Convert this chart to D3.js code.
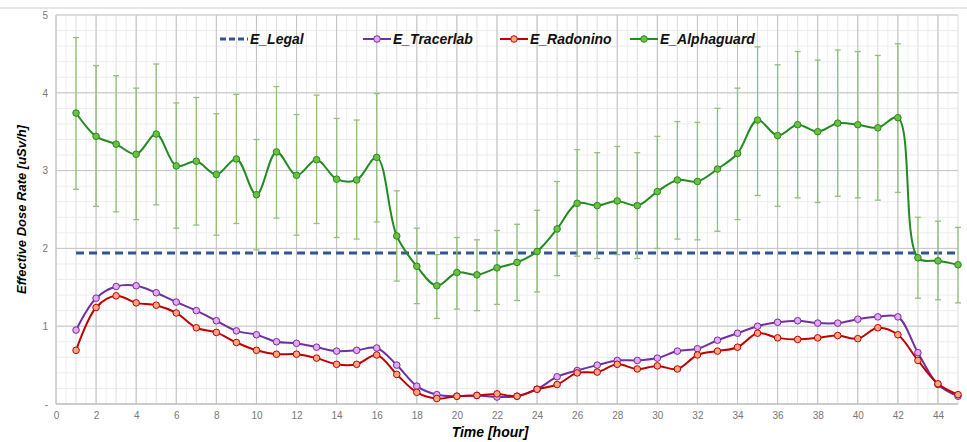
<!DOCTYPE html>
<html><head><meta charset="utf-8">
<script src="https://cdn.jsdelivr.net/npm/d3@7"></script>
<style>
body{margin:0;background:#fff;font-family:"Liberation Sans",Arial,sans-serif}
</style></head>
<body><div id="chart"></div>
<script>
var hours = d3.range(1, 46);
var legal = 1.94;
var tracerlab = [0.95,1.36,1.51,1.52,1.43,1.31,1.20,1.07,0.94,0.89,0.80,0.78,0.73,0.68,0.69,0.72,0.50,0.23,0.12,0.10,0.11,0.09,0.10,0.19,0.35,0.43,0.50,0.56,0.56,0.59,0.68,0.71,0.82,0.91,1.00,1.05,1.07,1.04,1.04,1.09,1.12,1.12,0.66,0.25,0.10];
var radonino = [0.69,1.24,1.39,1.30,1.27,1.17,0.98,0.92,0.79,0.69,0.64,0.64,0.59,0.51,0.51,0.63,0.38,0.15,0.07,0.10,0.11,0.13,0.10,0.19,0.25,0.40,0.41,0.51,0.45,0.49,0.45,0.63,0.68,0.73,0.91,0.85,0.83,0.85,0.88,0.84,0.98,0.89,0.56,0.26,0.12];
var alphaguard = [3.74,3.44,3.34,3.21,3.47,3.06,3.12,2.95,3.15,2.69,3.24,2.94,3.14,2.89,2.88,3.17,2.16,1.77,1.52,1.69,1.66,1.75,1.82,1.96,2.25,2.58,2.55,2.61,2.55,2.73,2.88,2.86,3.02,3.22,3.65,3.45,3.59,3.50,3.61,3.59,3.55,3.68,1.88,1.84,1.79];
var alphaHigh = [4.71,4.35,4.22,4.06,4.37,3.87,3.94,3.73,3.98,3.40,4.08,3.72,3.97,3.67,3.65,3.99,2.74,2.26,1.92,2.14,2.11,2.23,2.31,2.49,2.86,3.27,3.23,3.31,3.23,3.44,3.63,3.62,3.80,4.06,4.59,4.36,4.53,4.42,4.55,4.53,4.48,4.63,2.40,2.35,2.27];
var alphaLow = [2.76,2.54,2.47,2.37,2.56,2.26,2.30,2.17,2.32,1.98,2.39,2.17,2.32,2.14,2.12,2.34,1.58,1.29,1.10,1.22,1.20,1.28,1.33,1.44,1.65,1.90,1.87,1.92,1.87,2.00,2.12,2.11,2.22,2.37,2.68,2.54,2.65,2.59,2.67,2.65,2.62,2.72,1.36,1.34,1.30];
var xTicks = d3.range(0, 46, 2);
var yTicks = [0,1,2,3,4,5];

var svgWidth = 967, svgHeight = 442;
var margin = {top: 15, right: 9, bottom: 38, left: 56};
var width = svgWidth - margin.left - margin.right;
var height = svgHeight - margin.top - margin.bottom;

var svg = d3.select("#chart").append("svg")
  .attr("width", svgWidth).attr("height", svgHeight);

// thin frame line at the top, like the screenshot
svg.append("line").attr("x1", 0).attr("x2", svgWidth).attr("y1", 8).attr("y2", 8)
  .attr("stroke", "#d0d0d0");

var g = svg.append("g").attr("transform", `translate(${margin.left},${margin.top})`);

var x = d3.scaleLinear().domain([0, 45]).range([0, width]);
var y = d3.scaleLinear().domain([0, 5]).range([height, 0]);

// minor grid
g.selectAll(".vminor").data(d3.range(0, 45.01, 0.5)).enter().append("line")
  .attr("x1", d => x(d)).attr("x2", d => x(d)).attr("y1", 0).attr("y2", height)
  .attr("stroke", d => d % 1 === 0 ? "#dcdcdc" : "#efefef");
g.selectAll(".hminor").data(d3.range(0, 5.01, 0.2)).enter().append("line")
  .attr("y1", d => y(d)).attr("y2", d => y(d)).attr("x1", 0).attr("x2", width)
  .attr("stroke", "#ececec");
// major grid
g.selectAll(".vmajor").data(xTicks).enter().append("line")
  .attr("x1", d => x(d)).attr("x2", d => x(d)).attr("y1", 0).attr("y2", height)
  .attr("stroke", "#c4c4c4");
g.selectAll(".hmajor").data(yTicks).enter().append("line")
  .attr("y1", d => y(d)).attr("y2", d => y(d)).attr("x1", 0).attr("x2", width)
  .attr("stroke", "#c4c4c4");
g.append("line").attr("x1", 0).attr("x2", width).attr("y1", height).attr("y2", height).attr("stroke", "#bbb");
g.append("line").attr("x1", 0).attr("x2", 0).attr("y1", 0).attr("y2", height).attr("stroke", "#ccc");

// axes
var bottomAxis = d3.axisBottom(x).tickValues(xTicks).tickSize(0).tickPadding(8);
var leftAxis = d3.axisLeft(y).tickValues(yTicks).tickSize(0).tickPadding(8)
  .tickFormat(d => d === 0 ? "-" : d);
g.append("g").attr("transform", `translate(0,${height})`).call(bottomAxis)
  .call(a => a.select(".domain").remove())
  .selectAll("text").attr("fill", "#777").style("font-size", "10px");
g.append("g").call(leftAxis)
  .call(a => a.select(".domain").remove())
  .selectAll("text").attr("fill", "#777").style("font-size", "10px");

// legal limit
g.append("line").attr("x1", x(1)).attr("x2", x(45)).attr("y1", y(legal)).attr("y2", y(legal))
  .attr("stroke", "#2F5597").attr("stroke-width", 3).attr("stroke-dasharray", "8,5");

// error bars
var eb = g.append("g").attr("stroke", "#93BF7A").attr("stroke-width", 1.3);
hours.forEach(function(h, i) {
  eb.append("line").attr("x1", x(h)).attr("x2", x(h)).attr("y1", y(alphaHigh[i])).attr("y2", y(alphaLow[i]));
  eb.append("line").attr("x1", x(h) - 3).attr("x2", x(h) + 3).attr("y1", y(alphaHigh[i])).attr("y2", y(alphaHigh[i]));
  eb.append("line").attr("x1", x(h) - 3).attr("x2", x(h) + 3).attr("y1", y(alphaLow[i])).attr("y2", y(alphaLow[i]));
});

var line = d3.line().x(d => x(d[0])).y(d => y(d[1])).curve(d3.curveCatmullRom.alpha(0.5));
var series = [
  {name: "E_Tracerlab", values: tracerlab, stroke: "#7030A0", fill: "#E6A6F2"},
  {name: "E_Radonino", values: radonino, stroke: "#C00000", fill: "#F4A582"},
  {name: "E_Alphaguard", values: alphaguard, stroke: "#228B22", fill: "#70C040"}
];
series.forEach(function(s) {
  var pts = hours.map((h, i) => [h, s.values[i]]);
  g.append("path").datum(pts).attr("d", line).attr("fill", "none")
    .attr("stroke", s.stroke).attr("stroke-width", 2);
  g.selectAll(null).data(pts).enter().append("circle")
    .attr("cx", d => x(d[0])).attr("cy", d => y(d[1])).attr("r", 3.3)
    .attr("fill", s.fill).attr("stroke", s.stroke).attr("stroke-width", 1);
});

// legend
var legendItems = [
  {name: "E_Legal", x: 220, stroke: "#2F5597", dash: true},
  {name: "E_Tracerlab", x: 363, stroke: "#7030A0", fill: "#E6A6F2"},
  {name: "E_Radonino", x: 500, stroke: "#C00000", fill: "#F4A582"},
  {name: "E_Alphaguard", x: 630, stroke: "#228B22", fill: "#70C040"}
];
legendItems.forEach(function(l) {
  var ly = 39;
  svg.append("line").attr("x1", l.x).attr("x2", l.x + 28).attr("y1", ly).attr("y2", ly)
    .attr("stroke", l.stroke).attr("stroke-width", l.dash ? 3 : 2)
    .attr("stroke-dasharray", l.dash ? "6,3" : null);
  if (!l.dash) svg.append("circle").attr("cx", l.x + 14).attr("cy", ly).attr("r", 3.3)
    .attr("fill", l.fill).attr("stroke", l.stroke);
  svg.append("text").attr("x", l.x + 30).attr("y", ly + 5).text(l.name)
    .style("font-size", "14px").style("font-weight", "bold").style("font-style", "italic").attr("fill", "#111");
});

// axis titles
svg.append("text").attr("x", 490).attr("y", 437).attr("text-anchor", "middle")
  .text("Time [hour]").style("font-size", "14px").style("font-weight", "bold").style("font-style", "italic");
svg.append("text").attr("transform", `translate(26,${margin.top + height / 2}) rotate(-90)`)
  .attr("text-anchor", "middle").text("Effective Dose Rate [uSv/h]")
  .style("font-size", "13px").style("font-weight", "bold").style("font-style", "italic");
</script>
</body></html>
